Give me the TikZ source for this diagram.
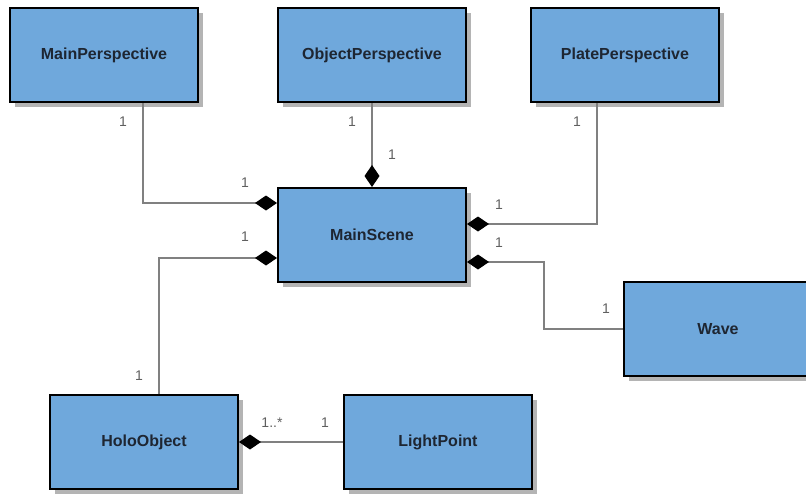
\documentclass[tikz,border=0pt]{standalone}
\usepackage{fontspec}
\setmainfont{Liberation Sans}
\usetikzlibrary{arrows.meta,shadows}
\definecolor{boxfill}{RGB}{111,168,220}
\definecolor{boxtext}{RGB}{30,38,50}
\definecolor{linegray}{RGB}{128,128,128}
\definecolor{labelgray}{RGB}{95,95,95}
\definecolor{shadowgray}{RGB}{180,180,180}
\tikzset{
  cls/.style={draw=black, line width=2pt, fill=boxfill, rectangle,
    minimum width=188pt, minimum height=94pt, inner sep=0pt,
    font=\fontsize{16}{18}\selectfont\bfseries, text=boxtext,
    drop shadow={shadow xshift=5pt, shadow yshift=-5pt, opacity=1, fill=shadowgray}},
  comp/.style={draw=linegray, line width=1.5pt,
    -{Diamond[length=22pt,width=15pt,color=black]}},
  assoc/.style={draw=linegray, line width=1.5pt},
  mult/.style={font=\fontsize{14}{16}\selectfont, text=labelgray, inner sep=0pt}
}
\begin{document}
\begin{tikzpicture}[x=1pt,y=-1pt]
\useasboundingbox (0,0) rectangle (806,493);
\node[cls] (mp) at (104,55) {MainPerspective};
\node[cls] (op) at (372,55) {ObjectPerspective};
\node[cls] (pp) at (625,55) {PlatePerspective};
\node[cls] (ms) at (372,235) {MainScene};
\node[cls] (wave) at (718,329) {Wave};
\node[cls] (holo) at (144,442) {HoloObject};
\node[cls] (lp) at (438,442) {LightPoint};
% connectors
\draw[comp] (mp.south -| 143,0) |- (ms.west |- 0,203);
\draw[comp] (op.south) -- (ms.north);
\draw[comp] (pp.south -| 597,0) |- (ms.east |- 0,224);
\draw[comp] (wave.west) -| (544,262) -- (ms.east |- 0,262);
\draw[comp] (holo.north -| 159,0) |- (ms.west |- 0,258);
\draw[comp] (lp.west) -- (holo.east);
% multiplicities
\node[mult] (m1) at (123,122) {1};
\node[mult] (m2) at (245,183) {1};
\node[mult] (m3) at (352,122) {1};
\node[mult] (m4) at (392,155) {1};
\node[mult] (m5) at (577,122) {1};
\node[mult] (m6) at (499,205) {1};
\node[mult] (m7) at (499,243) {1};
\node[mult] (m8) at (606,309) {1};
\node[mult] (m9) at (245,237) {1};
\node[mult] (m10) at (139,376) {1};
\node[mult] (m11) at (272,423) {1..*};
\node[mult] (m12) at (325,423) {1};
\end{tikzpicture}
\end{document}
